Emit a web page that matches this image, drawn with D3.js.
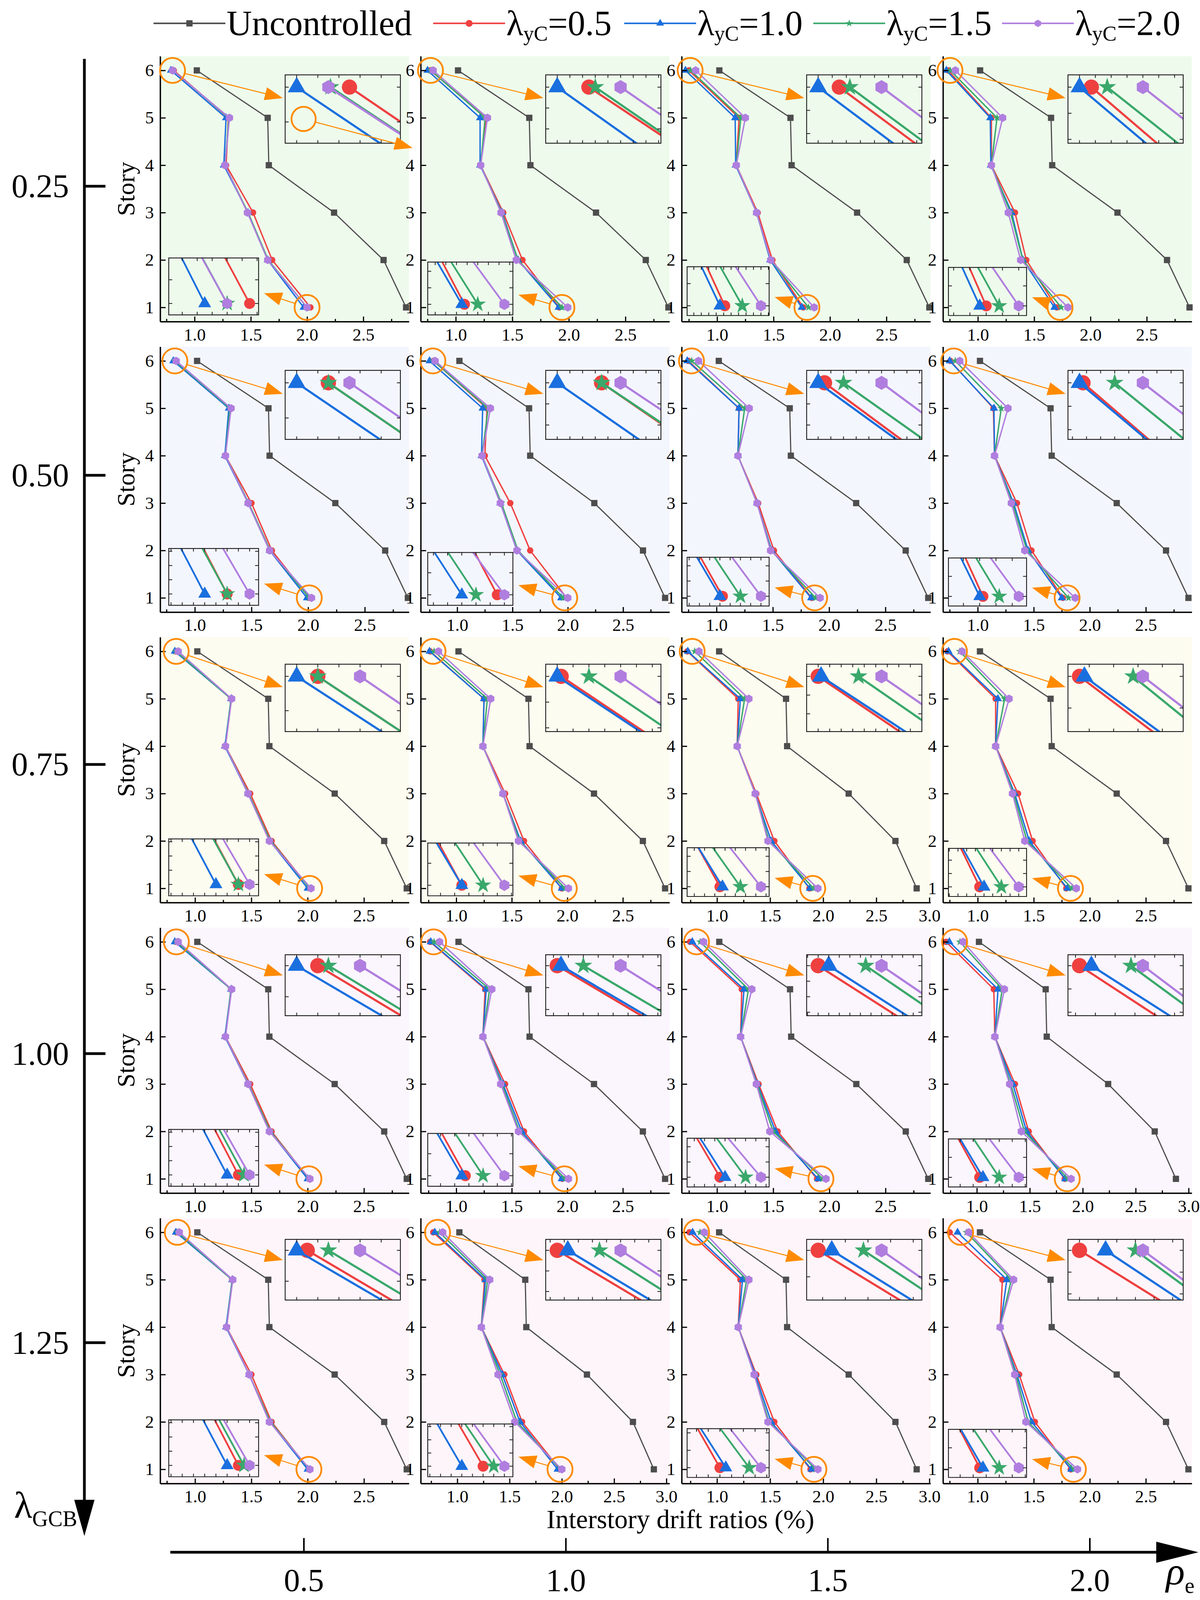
<!DOCTYPE html>
<html><head><meta charset="utf-8">
<script src="https://cdn.jsdelivr.net/npm/d3@7"></script>
<style>html,body{margin:0;padding:0;background:#fff;overflow:hidden} svg{display:block}
svg line, svg path, svg rect, svg ellipse{vector-effect:non-scaling-stroke}</style>
</head><body><svg id="c"></svg>
<script>
const stories = [1,2,3,4,5,6];
const lambdaGCB = [0.25,0.50,0.75,1.00,1.25];
const lambdaGCBLabels = ["0.25","0.50","0.75","1.00","1.25"];
const rhoE = [0.5,1.0,1.5,2.0];
const rhoELabels = ["0.5","1.0","1.5","2.0"];
const lambdaYC = ["0.5","1.0","1.5","2.0"];
const xMajor = [1.0,1.5,2.0,2.5,3.0];
const xMinor = [0.75,1.25,1.75,2.25,2.75];
const yDomain = [0.7,6.3];
const uncontrolled = [2.88,2.68,2.24,1.66,1.65,1.02];
const red = [
[2.03,1.69,1.52,1.28,1.30,0.815],[1.915,1.59,1.42,1.22,1.27,0.775],[1.763,1.49,1.36,1.17,1.195,0.75],[1.70,1.43,1.33,1.12,1.12,0.735],
[2.01,1.68,1.50,1.27,1.31,0.825],[1.99,1.66,1.48,1.25,1.27,0.785],[1.845,1.51,1.37,1.19,1.20,0.75],[1.76,1.48,1.35,1.15,1.14,0.755],
[2.02,1.68,1.49,1.27,1.32,0.83],[1.95,1.61,1.44,1.24,1.25,0.765],[1.87,1.54,1.37,1.19,1.20,0.72],[1.79,1.49,1.36,1.16,1.16,0.73],
[2.01,1.68,1.49,1.27,1.32,0.83],[1.955,1.61,1.44,1.24,1.26,0.765],[1.89,1.54,1.37,1.21,1.22,0.76],[1.83,1.49,1.36,1.17,1.16,0.71],
[2.01,1.68,1.50,1.28,1.33,0.835],[1.98,1.62,1.45,1.23,1.26,0.77],[1.88,1.54,1.37,1.20,1.22,0.74],[1.83,1.51,1.37,1.20,1.22,0.75]
];
const blue = [
[1.97,1.65,1.475,1.26,1.28,0.79],[1.91,1.55,1.41,1.215,1.215,0.75],[1.75,1.47,1.35,1.165,1.16,0.72],[1.68,1.40,1.30,1.115,1.11,0.72],
[1.99,1.66,1.47,1.265,1.30,0.81],[1.94,1.54,1.39,1.22,1.23,0.75],[1.84,1.49,1.36,1.19,1.20,0.74],[1.75,1.45,1.32,1.15,1.145,0.75],
[2.0,1.665,1.47,1.265,1.32,0.82],[1.95,1.58,1.42,1.24,1.25,0.76],[1.875,1.51,1.36,1.19,1.22,0.725],[1.80,1.46,1.33,1.16,1.18,0.74],
[2.0,1.665,1.47,1.265,1.32,0.82],[1.95,1.59,1.42,1.24,1.27,0.77],[1.90,1.52,1.36,1.21,1.24,0.78],[1.835,1.47,1.34,1.17,1.20,0.74],
[2.0,1.665,1.48,1.275,1.33,0.83],[1.96,1.60,1.43,1.23,1.27,0.785],[1.89,1.51,1.36,1.20,1.24,0.77],[1.835,1.48,1.35,1.20,1.26,0.82]
];
const green = [
[2.0,1.655,1.475,1.27,1.305,0.806],[1.94,1.55,1.405,1.22,1.26,0.78],[1.81,1.475,1.35,1.17,1.21,0.765],[1.74,1.40,1.29,1.12,1.17,0.755],
[2.01,1.665,1.475,1.27,1.31,0.825],[1.96,1.55,1.40,1.225,1.28,0.785],[1.88,1.485,1.36,1.19,1.25,0.78],[1.81,1.44,1.31,1.15,1.21,0.80],
[2.02,1.67,1.475,1.27,1.32,0.83],[1.98,1.57,1.42,1.24,1.28,0.80],[1.91,1.49,1.36,1.19,1.26,0.79],[1.84,1.44,1.32,1.16,1.24,0.84],
[2.015,1.67,1.475,1.27,1.32,0.835],[1.98,1.57,1.41,1.24,1.30,0.80],[1.94,1.50,1.355,1.21,1.28,0.85],[1.86,1.45,1.32,1.17,1.24,0.84],
[2.015,1.67,1.48,1.28,1.33,0.845],[1.99,1.57,1.41,1.23,1.29,0.83],[1.93,1.49,1.35,1.20,1.28,0.84],[1.86,1.45,1.34,1.20,1.30,0.90]
];
const purple = [
[2.0,1.65,1.47,1.27,1.31,0.805],[1.99,1.535,1.40,1.22,1.28,0.80],[1.86,1.475,1.35,1.17,1.25,0.81],[1.80,1.38,1.27,1.12,1.22,0.80],
[2.03,1.66,1.47,1.27,1.32,0.835],[2.0,1.54,1.39,1.225,1.30,0.80],[1.92,1.48,1.36,1.19,1.29,0.84],[1.87,1.42,1.30,1.15,1.27,0.84],
[2.03,1.66,1.47,1.27,1.325,0.85],[2.01,1.56,1.42,1.24,1.31,0.84],[1.95,1.48,1.36,1.19,1.30,0.83],[1.88,1.42,1.31,1.16,1.28,0.86],
[2.02,1.66,1.47,1.27,1.325,0.85],[2.01,1.56,1.40,1.24,1.32,0.85],[1.97,1.47,1.35,1.21,1.31,0.88],[1.89,1.42,1.31,1.17,1.26,0.87],
[2.02,1.66,1.48,1.28,1.335,0.86],[2.0,1.55,1.39,1.23,1.31,0.86],[1.95,1.48,1.35,1.20,1.30,0.88],[1.89,1.43,1.33,1.20,1.32,0.92]
];
const xDomains = [
[0.694,2.906],[0.69,2.89],[0.686,2.89],[0.69,2.90],
[0.694,2.89],[0.67,2.92],[0.69,2.90],[0.69,2.91],
[0.69,2.90],[0.68,2.92],[0.667,3.01],[0.69,2.91],
[0.69,2.90],[0.68,2.92],[0.685,2.90],[0.68,3.03],
[0.69,2.90],[0.65,3.03],[0.667,3.01],[0.69,2.91]
];

// ---- layout (design space 3072 x 4726, fitted to the actual window) ----
const DW=3072, DH=4726;
const VW=window.innerWidth||DW, VH=window.innerHeight||DH;
const sx=VW/DW, sy=VH/DH;
const font = "'Liberation Serif','Times New Roman',serif";
const colLeft=[410,1077,1745,2414], panelW=637;
const rowTop=[166,1024,1882,2740,3598], panelH=784;
const rowBg=["#eefbec","#f4f6fd","#fdfcf0","#fbf5fd","#fdf5f9"];
const topInsetRows=[[55,202],[70,204],[80,199],[80,180],[63,179]];
const topInsetX=320, topInsetW=295;
const botInsetCols=[[22,230,596,168],[18,218,608,156],[14,210,622,144],[14,200,624,142]];
const orange="#ff8a00";
const uncColor="#4d4d4d";
const unscale=`scale(${1/sx},${1/sy})`;

const hexagon = { draw(ctx,size){ const r=Math.sqrt(size/2.598); for(let k=0;k<6;k++){const a=-Math.PI/2+k*Math.PI/3; const px=r*Math.cos(a), py=r*Math.sin(a); if(k) ctx.lineTo(px,py); else ctx.moveTo(px,py);} ctx.closePath(); } };
const series = [
 {data:red,    color:"#ef4040", sym:d3.symbolCircle,   main:210, top:1200, bot:616, leg:250},
 {data:blue,   color:"#1a6fdf", sym:d3.symbolTriangle, main:190, top:900,  bot:470, leg:175},
 {data:green,  color:"#3aa86b", sym:d3.symbolStar,     main:130, top:650,  bot:540, leg:110},
 {data:purple, color:"#b07edf", sym:hexagon,           main:300, top:842,  bot:560, leg:230}
];

const svgEl = d3.select("#c").attr("width",VW).attr("height",VH);
svgEl.append("rect").attr("width",VW).attr("height",VH).attr("fill","#fff");
const svg = svgEl.append("g").attr("transform",`scale(${sx},${sy})`);

function drawArrow(g,x0,y0,x1,y1,L,hw,sw){
  const X0=x0*sx,Y0=y0*sy,X1=x1*sx,Y1=y1*sy;
  const dx=X1-X0, dy=Y1-Y0, len=Math.hypot(dx,dy), ux=dx/len, uy=dy/len, px=-uy, py=ux;
  const bx=X1-ux*L, by=Y1-uy*L;
  g.append("line").attr("x1",x0).attr("y1",y0).attr("x2",(X1-ux*L*0.7)/sx).attr("y2",(Y1-uy*L*0.7)/sy).attr("stroke",orange).attr("stroke-width",sw);
  g.append("path").attr("d",`M${X1/sx},${Y1/sy}L${(bx+px*hw)/sx},${(by+py*hw)/sy}L${(bx-px*hw)/sx},${(by-py*hw)/sy}Z`).attr("fill",orange);
}
function ring(g,cx,cy,r){
  g.append("ellipse").attr("cx",cx).attr("cy",cy).attr("rx",r/sx).attr("ry",r/sy).attr("fill","none").attr("stroke",orange).attr("stroke-width",4.5);
}
function arrowFromCircle(g,cx,cy,r,tx,ty){
  const dx=(tx-cx)*sx, dy=(ty-cy)*sy, len=Math.hypot(dx,dy);
  drawArrow(g,cx+dx/len*r/sx,cy+dy/len*r/sy,tx,ty,46,17,2.5);
}
function drawSeriesMain(g,x,y,vals,color,sym,size,lw){
  const pts = stories.map((s,k)=>({s,v:vals[k]}));
  g.append("path").datum(pts).attr("fill","none").attr("stroke",color).attr("stroke-width",lw)
   .attr("stroke-linejoin","round").attr("d",d3.line().x(d=>x(d.v)).y(d=>y(d.s)));
  g.selectAll(null).data(pts).join("path")
   .attr("transform",d=>`translate(${x(d.v)},${y(d.s)}) ${unscale}`)
   .attr("d",d3.symbol().type(sym).size(size)).attr("fill",color);
}
let clipId=0;
function drawInset(g,i,box,which){
  const k = which==="top"?5:0;
  const vals = series.map(s=>s.data[i][k]);
  const mn=d3.min(vals), mx=d3.max(vals);
  let xd, yd;
  if(which==="top"){
    const d=Math.max(mx-mn,0.03), Wd=d/0.55, Hd=1.8*Wd;
    xd=[mn-0.1*Wd, mn+0.9*Wd]; yd=[6-0.82*Hd, 6+0.18*Hd];
  } else {
    const d=Math.max(mx-mn,0.04), Wd=d/0.5, Hd=Wd;
    xd=[mx+0.1*Wd-Wd, mx+0.1*Wd]; yd=[1-0.2*Hd, 1+0.8*Hd];
  }
  const xs=d3.scaleLinear().domain(xd).range([box.x,box.x+box.w]);
  const ys=d3.scaleLinear().domain(yd).range([box.y+box.h,box.y]);
  const id="clip"+(clipId++);
  g.append("clipPath").attr("id",id).append("rect").attr("x",box.x).attr("y",box.y).attr("width",box.w).attr("height",box.h);
  const cg=g.append("g").attr("clip-path",`url(#${id})`);
  const lw = which==="top"?5.5:4.5;
  series.forEach(s=>{
    const pts=stories.map((st,j)=>({s:st,v:s.data[i][j]}));
    cg.append("path").datum(pts).attr("fill","none").attr("stroke",s.color).attr("stroke-width",lw)
      .attr("d",d3.line().x(d=>xs(d.v)).y(d=>ys(d.s)));
    cg.append("path").attr("transform",`translate(${xs(pts[k].v)},${ys(pts[k].s)}) ${unscale}`)
      .attr("d",d3.symbol().type(s.sym).size(which==="top"?s.top:s.bot)).attr("fill",s.color);
  });
  g.append("rect").attr("x",box.x).attr("y",box.y).attr("width",box.w).attr("height",box.h)
   .attr("fill","none").attr("stroke","#1a1a1a").attr("stroke-width",2.2);
  const tl=9;
  xs.ticks(7).forEach(t=>{ const X=xs(t);
    g.append("line").attr("x1",X).attr("x2",X).attr("y1",box.y+box.h).attr("y2",box.y+box.h-tl).attr("stroke","#1a1a1a").attr("stroke-width",2);
    g.append("line").attr("x1",X).attr("x2",X).attr("y1",box.y).attr("y2",box.y+tl).attr("stroke","#1a1a1a").attr("stroke-width",2);
  });
  ys.ticks(3).forEach(t=>{ const Y=ys(t);
    g.append("line").attr("x1",box.x).attr("x2",box.x+tl).attr("y1",Y).attr("y2",Y).attr("stroke","#1a1a1a").attr("stroke-width",2);
    g.append("line").attr("x1",box.x+box.w).attr("x2",box.x+box.w-tl).attr("y1",Y).attr("y2",Y).attr("stroke","#1a1a1a").attr("stroke-width",2);
  });
}

lambdaGCB.forEach((lg,r)=>{
  rhoE.forEach((re,c)=>{
    const i=r*4+c;
    const g=svg.append("g").attr("transform",`translate(${colLeft[c]},${rowTop[r]})`);
    const x=d3.scaleLinear().domain(xDomains[i]).range([0,panelW]);
    const y=d3.scaleLinear().domain(yDomain).range([panelH,0]);
    g.append("rect").attr("width",panelW).attr("height",panelH).attr("fill",rowBg[r]);
    drawSeriesMain(g,x,y,uncontrolled,uncColor,d3.symbolSquare,256,3);
    series.forEach(s=>drawSeriesMain(g,x,y,s.data[i],s.color,s.sym,s.main,3.5));
    const dom=xDomains[i];
    const maj=xMajor.filter(v=>v>=dom[0]-1e-9 && v<=dom[1]+1e-9);
    const mnr=xMinor.filter(v=>v>=dom[0]-1e-9 && v<=dom[1]+1e-9);
    const ax=g.append("g").attr("transform",`translate(0,${panelH})`)
      .call(d3.axisBottom(x).tickValues(maj).tickFormat(d3.format(".1f")).tickSizeInner(-15).tickSizeOuter(0).tickPadding(19));
    ax.select(".domain").attr("stroke","#000").attr("stroke-width",3.5);
    ax.selectAll(".tick line").attr("stroke","#000").attr("stroke-width",3);
    ax.selectAll("text").attr("font-family",font).attr("font-size",45).attr("fill","#000");
    const axm=g.append("g").attr("transform",`translate(0,${panelH})`)
      .call(d3.axisBottom(x).tickValues(mnr).tickFormat("").tickSizeInner(-8).tickSizeOuter(0));
    axm.select(".domain").remove();
    axm.selectAll(".tick line").attr("stroke","#000").attr("stroke-width",3);
    const ay=g.append("g")
      .call(d3.axisLeft(y).tickValues(stories).tickFormat(d3.format("d")).tickSizeInner(-14).tickSizeOuter(0).tickPadding(16));
    ay.select(".domain").attr("stroke","#000").attr("stroke-width",3.5);
    ay.selectAll(".tick line").attr("stroke","#000").attr("stroke-width",3);
    ay.selectAll("text").attr("font-family",font).attr("font-size",45).attr("fill","#000");
    if(c===0){
      g.append("text").attr("class","fixed").attr("transform",`translate(-88,${panelH/2}) ${unscale} rotate(-90)`)
       .attr("text-anchor","middle").attr("dominant-baseline","central")
       .attr("font-family",font).attr("font-size",64).text("Story");
    }
    const tb={x:topInsetX,y:topInsetRows[r][0],w:topInsetW,h:topInsetRows[r][1]};
    const bc=botInsetCols[c];
    const bb={x:bc[0],w:bc[1],y:bc[2],h:bc[3]};
    drawInset(g,i,tb,"top");
    drawInset(g,i,bb,"bot");
    const m6=d3.mean(series,s=>s.data[i][5]), m1=d3.mean(series,s=>s.data[i][0]);
    const c6={x:x(m6),y:y(6)}, c1={x:x(m1),y:y(1)};
    ring(g,c6.x,c6.y,32); ring(g,c1.x,c1.y,32);
    arrowFromCircle(g,c6.x,c6.y,32,tb.x-6,tb.y+0.34*tb.h);
    arrowFromCircle(g,c1.x,c1.y,32,bb.x+bb.w+14,bb.y+0.62*bb.h);
    if(i===0){
      const ex=tb.x+0.16*tb.w, ey=tb.y+0.645*tb.h;
      ring(g,ex,ey,31);
      arrowFromCircle(g,ex,ey,31,tb.x+tb.w+31,tb.y+tb.h+14);
    }
  });
});

const legendX=[393,1109,1598,2082,2565], legendY=69, legLen=184;
const legendItems=[{color:uncColor,sym:d3.symbolSquare,size:256}].concat(series.map(s=>({color:s.color,sym:s.sym,size:s.leg})));
legendItems.forEach((it,k)=>{
  const x0=legendX[k];
  svg.append("line").attr("x1",x0).attr("x2",x0+legLen).attr("y1",legendY).attr("y2",legendY).attr("stroke",it.color).attr("stroke-width",4);
  svg.append("path").attr("transform",`translate(${x0+legLen/2},${legendY}) ${unscale}`).attr("d",d3.symbol().type(it.sym).size(it.size)).attr("fill",it.color);
  const t=svg.append("text").attr("x",x0+legLen+3).attr("y",104).attr("font-family",font).attr("font-size",90);
  if(k===0){ t.text("Uncontrolled"); }
  else {
    t.append("tspan").text("λ");
    t.append("tspan").attr("font-size",54).attr("dy",14).text("yC");
    t.append("tspan").attr("dy",-14).text("="+lambdaYC[k-1]);
  }
});

const yL=d3.scaleLinear().domain([0.25,1.25]).range([550,3966]);
svg.append("line").attr("x1",216).attr("x2",216).attr("y1",174).attr("y2",4450).attr("stroke","#000").attr("stroke-width",7);
svg.append("path").attr("d","M190,4430L242,4430L216,4537Z").attr("fill","#000");
lambdaGCB.forEach((v,k)=>{
  svg.append("line").attr("x1",213).attr("x2",270).attr("y1",yL(v)).attr("y2",yL(v)).attr("stroke","#000").attr("stroke-width",7);
  svg.append("text").attr("x",103).attr("y",yL(v)).attr("text-anchor","middle").attr("dominant-baseline","central")
    .attr("font-family",font).attr("font-size",84).text(lambdaGCBLabels[k]);
});
const lt=svg.append("text").attr("x",36).attr("y",4482).attr("font-family",font).attr("font-size",96);
lt.append("tspan").text("λ");
lt.append("tspan").attr("font-size",56).attr("dy",22).text("GCB");
const xR=d3.scaleLinear().domain([0.5,2.0]).range([778,2790]);
svg.append("line").attr("x1",436).attr("x2",2965).attr("y1",4585).attr("y2",4585).attr("stroke","#000").attr("stroke-width",7);
svg.append("path").attr("d",`M2960,${4585-27/sy}L2960,${4585+27/sy}L3068,4585Z`).attr("fill","#000");
rhoE.forEach((v,k)=>{
  svg.append("line").attr("x1",xR(v)).attr("x2",xR(v)).attr("y1",4585).attr("y2",4543).attr("stroke","#000").attr("stroke-width",4);
  svg.append("text").attr("x",xR(v)).attr("y",4700).attr("text-anchor","middle").attr("font-family",font).attr("font-size",82).text(rhoELabels[k]);
});
const rt=svg.append("text").attr("x",2985).attr("y",4680).attr("font-family",font).attr("font-size",100);
rt.append("tspan").attr("font-style","italic").text("ρ");
rt.append("tspan").attr("font-size",56).attr("dy",22).text("e");
svg.append("text").attr("x",1742).attr("y",4514).attr("text-anchor","middle").attr("font-family",font).attr("font-size",68).text("Interstory drift ratios (%)");

// keep glyphs undistorted when the window is not 3072x4726
svg.selectAll("text").each(function(){
  const el=d3.select(this);
  if(el.classed("fixed")) return;
  const ax=+el.attr("x")||0, ay=+el.attr("y")||0;
  el.attr("transform",`translate(${ax},${ay}) ${unscale} translate(${-ax},${-ay})`);
});
</script>
</body></html>
